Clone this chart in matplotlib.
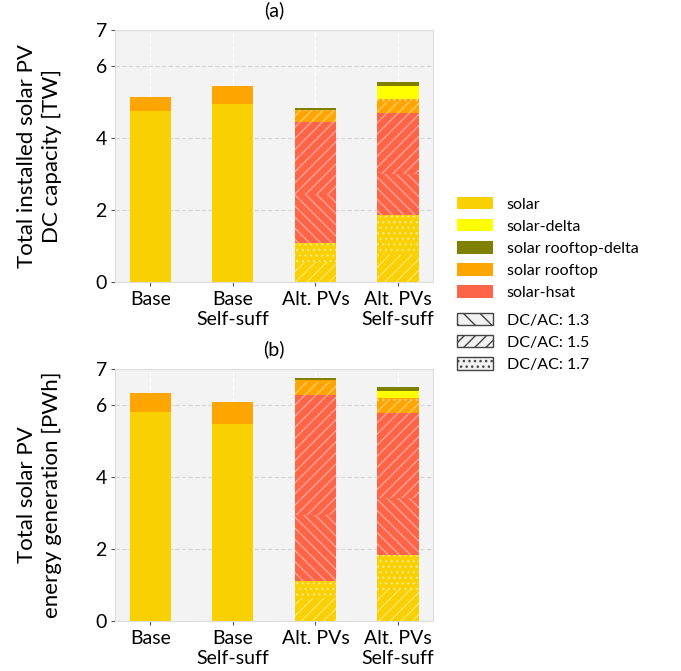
import numpy as np
import matplotlib
matplotlib.use("Agg")
from matplotlib import pyplot as plt
from matplotlib.patches import Patch

plt.rcParams['font.family'] = ['Lato', 'DejaVu Sans']
plt.rcParams['hatch.linewidth'] = 1.0

scenarios = ["Base", "Base\nSelf-suff", "Alt. PVs", "Alt. PVs\nSelf-suff"]

# (a) installed DC capacity [TW]
cap_solar = [4.76, 4.94, 0, 0]
cap_rooftop = [0.39, 0.50, 0, 0]
cap_solar_15 = [0, 0, 0.56, 0.75]
cap_solar_17 = [0, 0, 0.51, 1.11]
cap_hsat_13 = [0, 0, 1.37, 1.14]
cap_hsat_15 = [0, 0, 2.01, 1.71]
cap_rooftop_15 = [0, 0, 0.30, 0.28]
cap_rooftop_17 = [0, 0, 0.03, 0.09]
cap_solar_delta = [0, 0, 0, 0.37]
cap_rooftop_delta = [0, 0, 0.06, 0.11]

# (b) energy generation [PWh]
gen_solar = [5.81, 5.47, 0, 0]
gen_rooftop = [0.53, 0.61, 0, 0]
gen_solar_15 = [0, 0, 0.65, 0.86]
gen_solar_17 = [0, 0, 0.46, 0.97]
gen_hsat_13 = [0, 0, 1.83, 1.60]
gen_hsat_15 = [0, 0, 3.34, 2.34]
gen_rooftop_15 = [0, 0, 0.35, 0.33]
gen_rooftop_17 = [0, 0, 0.06, 0.09]
gen_solar_delta = [0, 0, 0, 0.21]
gen_rooftop_delta = [0, 0, 0.06, 0.11]

colors = {
    "solar": "#f9d002",
    "solar-delta": "#ffff00",
    "solar rooftop-delta": "#808000",
    "solar rooftop": "#ffa500",
    "solar-hsat": "#fe6448",
}
hatches = {"1.3": "\\\\\\", "1.5": "///", "1.7": "..."}
legend_hatches = {"1.3": "\\\\", "1.5": "///", "1.7": "..."}


def draw(ax, segments, ylabel, title):
    x = np.arange(len(scenarios))
    bottom = np.zeros(len(scenarios))
    for vals, tech, dcac in segments:
        vals = np.array(vals, dtype=float)
        ax.bar(x, vals, 0.5, bottom=bottom, color=colors[tech],
               hatch=hatches.get(dcac), edgecolor=(1, 1, 1, 0.4), linewidth=0)
        bottom += vals
    ax.set_xticks(x)
    ax.set_xticklabels(scenarios, fontsize=14)
    ax.set_ylim(0, 7)
    ax.set_yticks([0, 2, 4, 6, 7])
    ax.tick_params(axis='y', labelsize=14, length=3, color='#555555', pad=3)
    ax.tick_params(axis='x', length=3, color='#555555')
    ax.set_facecolor("#f3f3f3")
    for s in ax.spines.values():
        s.set_color("#dddddd")
    ax.set_axisbelow(True)
    ax.yaxis.grid(True, ls='--', color='#d9d9d9', lw=0.9)
    ax.xaxis.grid(True, ls='--', color='white', lw=0.9)
    ax.set_ylabel(ylabel, fontsize=16, labelpad=24, linespacing=1.3)
    ax.set_title(title, fontsize=14, pad=10)


fig = plt.figure(figsize=(6.81, 6.71), dpi=100)
ax1 = fig.add_axes([0.169, 0.580, 0.467, 0.375])
ax2 = fig.add_axes([0.169, 0.0745, 0.467, 0.3755])

draw(ax1, [
    (cap_solar, "solar", None),
    (cap_solar_15, "solar", "1.5"),
    (cap_solar_17, "solar", "1.7"),
    (cap_hsat_13, "solar-hsat", "1.3"),
    (cap_hsat_15, "solar-hsat", "1.5"),
    (cap_rooftop, "solar rooftop", None),
    (cap_rooftop_15, "solar rooftop", "1.5"),
    (cap_rooftop_17, "solar rooftop", "1.7"),
    (cap_solar_delta, "solar-delta", None),
    (cap_rooftop_delta, "solar rooftop-delta", None),
], "Total installed solar PV\nDC capacity [TW]", "(a)")

draw(ax2, [
    (gen_solar, "solar", None),
    (gen_solar_15, "solar", "1.5"),
    (gen_solar_17, "solar", "1.7"),
    (gen_hsat_13, "solar-hsat", "1.3"),
    (gen_hsat_15, "solar-hsat", "1.5"),
    (gen_rooftop, "solar rooftop", None),
    (gen_rooftop_15, "solar rooftop", "1.5"),
    (gen_rooftop_17, "solar rooftop", "1.7"),
    (gen_solar_delta, "solar-delta", None),
    (gen_rooftop_delta, "solar rooftop-delta", None),
], "Total solar PV\nenergy generation [PWh]", "(b)")

legend_kw = dict(loc='center left', frameon=False, fontsize=11.5,
                 handlelength=2.3, handleheight=0.85, handletextpad=0.85,
                 borderaxespad=0, labelspacing=0.45)
tech_handles = [Patch(facecolor=c, edgecolor='none', label=k)
                for k, c in colors.items()]
dcac_handles = [Patch(facecolor='#f2f2f2', edgecolor='#444444', hatch=h,
                      label=f"DC/AC: {k}") for k, h in legend_hatches.items()]
fig.legend(handles=tech_handles, bbox_to_anchor=(0.661, 0.630), **legend_kw)
fig.legend(handles=dcac_handles, bbox_to_anchor=(0.661, 0.490), **legend_kw)

fig.savefig("out.png", dpi=100)
